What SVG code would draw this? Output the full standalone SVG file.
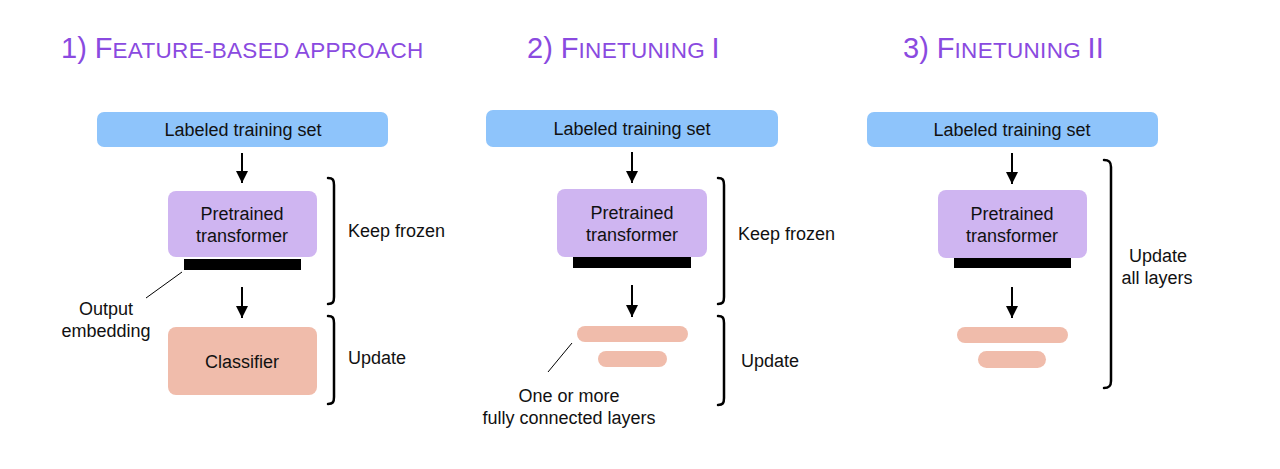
<svg xmlns="http://www.w3.org/2000/svg" width="1280" height="469" viewBox="0 0 1280 469">
<style>
.t{font-family:"Liberation Sans",Arial,sans-serif;font-size:18px;fill:#111}
.c{text-anchor:middle}
.title{font-family:"Liberation Sans",Arial,sans-serif;fill:#8a4ae0}
.big{font-size:29px}
.sm{font-size:22.5px;letter-spacing:0.3px}
.blue{fill:#8ec4fb}
.purp{fill:#cfb5f1}
.sal{fill:#f0bcab}
.bar{fill:#000}
.arr{stroke:#000;stroke-width:2;fill:none}
.br{stroke:#000;stroke-width:2.5;fill:none;stroke-linecap:round}
.lead{stroke:#000;stroke-width:1;fill:none}
</style>
<defs>
<marker id="ah" viewBox="0 0 10 10" refX="10" refY="5" markerWidth="6" markerHeight="6" orient="auto" markerUnits="strokeWidth">
<path d="M0,0 L10,5 L0,10 z" fill="#000"/>
</marker>
</defs>

<g id="titles">
<text class="title" x="61" y="58"><tspan class="big">1) F</tspan><tspan class="sm">EATURE-BASED APPROACH</tspan></text>
<text class="title" x="527" y="58"><tspan class="big">2) F</tspan><tspan class="sm">INETUNING </tspan><tspan class="big">I</tspan></text>
<text class="title" x="903" y="58"><tspan class="big">3) F</tspan><tspan class="sm">INETUNING </tspan><tspan class="big">II</tspan></text>
</g>

<!-- Panel 1 -->
<g id="p1-train"><rect class="blue" x="97" y="112" width="291" height="35" rx="7"/><text class="t c" x="243" y="136">Labeled training set</text></g>
<g id="p1-transformer"><rect class="purp" x="168" y="191" width="149" height="66" rx="8"/><text class="t c" x="242" y="220">Pretrained</text><text class="t c" x="242" y="242">transformer</text></g>
<g id="p1-embedding"><rect class="bar" x="184" y="259" width="117" height="11"/></g>
<g id="p1-classifier"><rect class="sal" x="168" y="327" width="149" height="68" rx="8"/><text class="t c" x="242" y="368">Classifier</text></g>
<g id="p1-labels">
<text class="t c" x="106" y="315">Output</text><text class="t c" x="106" y="337">embedding</text>
<text class="t" x="348" y="237">Keep frozen</text>
<text class="t" x="348" y="364">Update</text>
</g>

<!-- Panel 2 -->
<g id="p2-train"><rect class="blue" x="486" y="110" width="292" height="37" rx="7"/><text class="t c" x="632" y="135">Labeled training set</text></g>
<g id="p2-transformer"><rect class="purp" x="557" y="189" width="150" height="68" rx="8"/><text class="t c" x="632" y="219">Pretrained</text><text class="t c" x="632" y="241">transformer</text></g>
<g id="p2-embedding"><rect class="bar" x="573" y="257" width="118" height="11"/></g>
<g id="p2-fc"><rect class="sal" x="577" y="326" width="111" height="16" rx="8"/><rect class="sal" x="598" y="351" width="69" height="16" rx="8"/></g>
<g id="p2-labels">
<text class="t c" x="569" y="402">One or more</text><text class="t c" x="569" y="424">fully connected layers</text>
<text class="t" x="738" y="240">Keep frozen</text>
<text class="t" x="741" y="367">Update</text>
</g>

<!-- Panel 3 -->
<g id="p3-train"><rect class="blue" x="867" y="112" width="291" height="35" rx="7"/><text class="t c" x="1012" y="136">Labeled training set</text></g>
<g id="p3-transformer"><rect class="purp" x="938" y="190" width="149" height="68" rx="8"/><text class="t c" x="1012" y="220">Pretrained</text><text class="t c" x="1012" y="242">transformer</text></g>
<g id="p3-embedding"><rect class="bar" x="954" y="258" width="117" height="10"/></g>
<g id="p3-fc"><rect class="sal" x="957" y="327" width="111" height="16" rx="8"/><rect class="sal" x="978" y="351" width="68" height="17" rx="8.5"/></g>
<g id="p3-labels">
<text class="t c" x="1158" y="262">Update</text><text class="t c" x="1157" y="284">all layers</text>
</g>

<g id="connectors">
<line class="arr" x1="242" y1="153" x2="242" y2="183" marker-end="url(#ah)"/>
<line class="arr" x1="242" y1="287" x2="242" y2="318" marker-end="url(#ah)"/>
<line class="arr" x1="632" y1="152" x2="632" y2="183" marker-end="url(#ah)"/>
<line class="arr" x1="632" y1="285" x2="632" y2="317" marker-end="url(#ah)"/>
<line class="arr" x1="1012" y1="153" x2="1012" y2="184" marker-end="url(#ah)"/>
<line class="arr" x1="1012" y1="287" x2="1012" y2="318" marker-end="url(#ah)"/>
<line class="lead" x1="182" y1="272" x2="146" y2="298"/>
<line class="lead" x1="572" y1="343" x2="548" y2="372"/>
<path class="br" d="M328,178 C333,178 334,180 334,185 L334,297 C334,302 333,304 328,304"/>
<path class="br" d="M328,316 C333,316 334,318 334,323 L334,397 C334,402 333,404 328,404"/>
<path class="br" d="M718,178 C723,178 724,180 724,185 L724,297 C724,302 723,304 718,304"/>
<path class="br" d="M718,316 C723,316 724,318 724,323 L724,398 C724,403 723,405 718,405"/>
<path class="br" d="M1104,160 C1109,160 1111,162 1111,167 L1111,381 C1111,386 1109,388 1104,388"/>
</g>
</svg>
